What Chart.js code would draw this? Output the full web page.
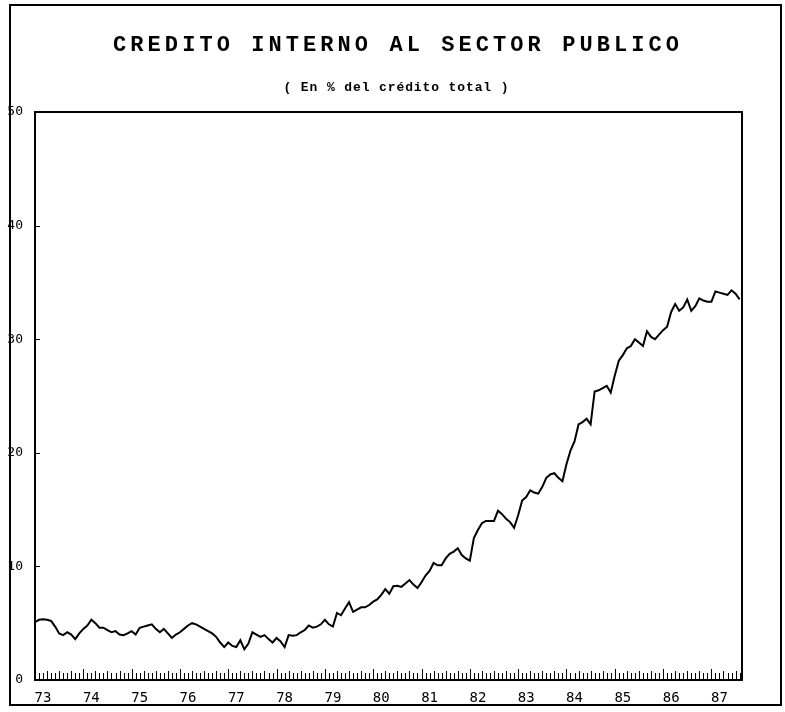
<!DOCTYPE html>
<html><head><meta charset="utf-8">
<script src="https://cdn.jsdelivr.net/npm/chart.js@4/dist/chart.umd.min.js"></script>
<style>html,body{margin:0;padding:0;background:#fff}#c{display:block}</style>
</head><body>
<canvas id="c" width="785" height="712"></canvas>
<script>
const titleText = "CREDITO INTERNO AL SECTOR PUBLICO";
const subtitleText = "( En % del crédito total )";
const yearLabels = ["73","74","75","76","77","78","79","80","81","82","83","84","85","86","87"];
const yTicks = [0,10,20,30,40,50];
const creditShare = [
5.1,5.3,5.35,5.3,5.2,4.7,4.1,3.95,4.2,4.0,3.6,4.1,
4.5,4.8,5.3,5.0,4.6,4.6,4.4,4.2,4.3,4.0,3.95,4.1,
4.3,4.0,4.6,4.7,4.8,4.9,4.5,4.2,4.5,4.1,3.7,4.0,
4.2,4.5,4.8,5.0,4.9,4.7,4.5,4.3,4.1,3.8,3.3,2.9,
3.3,3.0,2.9,3.5,2.7,3.2,4.2,4.0,3.8,3.95,3.6,3.3,
3.7,3.4,2.9,3.95,3.9,3.95,4.2,4.4,4.8,4.6,4.7,4.9,
5.3,4.9,4.7,5.9,5.7,6.3,6.85,6.0,6.2,6.4,6.4,6.6,
6.9,7.1,7.5,8.0,7.6,8.25,8.3,8.2,8.5,8.8,8.4,8.1,
8.6,9.2,9.6,10.3,10.1,10.1,10.7,11.1,11.3,11.6,11.0,10.7,
10.5,12.5,13.2,13.8,14.0,14.0,14.0,14.9,14.6,14.2,13.9,13.4,
14.5,15.8,16.1,16.7,16.5,16.4,17.0,17.8,18.1,18.2,17.8,17.5,
19.0,20.2,21.0,22.5,22.7,23.0,22.5,25.4,25.5,25.7,25.9,25.3,
26.8,28.1,28.6,29.2,29.4,30.0,29.7,29.4,30.7,30.2,30.0,30.4,
30.8,31.1,32.4,33.1,32.5,32.8,33.5,32.5,32.9,33.6,33.4,33.3,
33.3,34.2,34.1,34.0,33.9,34.3,34.0,33.5
];
const points = creditShare.map((v,i)=>({x:i,y:v}));

const deco = {
  id:'deco',
  afterDraw(chart){
    const ctx = chart.ctx, a = chart.chartArea;
    ctx.save();
    ctx.strokeStyle='#000';
    ctx.lineWidth=2;
    ctx.strokeRect(10,5,771,700);
    ctx.strokeRect(a.left,a.top,a.right-a.left,a.bottom-a.top);
    function spaced(txt, cx, y, font, width){
      ctx.font=font; ctx.fillStyle='#000'; ctx.textBaseline='middle'; ctx.textAlign='center';
      const step = width/txt.length;
      const x0 = cx - width/2 + step/2;
      for(let i=0;i<txt.length;i++) ctx.fillText(txt[i], x0+i*step, y);
    }
    spaced(titleText, 396, 45, 'bold 22px "Liberation Mono"', 570);
    spaced(subtitleText, 396, 88, 'bold 13px "Liberation Mono"', 226);
    const xs = chart.scales.x, ys = chart.scales.y;
    ctx.lineWidth=1;
    for(let m=0;m<=175;m++){
      const px = Math.round(xs.getPixelForValue(m))+0.5;
      const len = (m%12===0)?11:(m%3===0?9:7);
      ctx.beginPath(); ctx.moveTo(px,a.bottom); ctx.lineTo(px,a.bottom-len); ctx.stroke();
    }
    for(const t of yTicks){
      const py = Math.round(ys.getPixelForValue(t))+0.5;
      ctx.beginPath(); ctx.moveTo(a.left,py); ctx.lineTo(a.left+5,py); ctx.stroke();
    }
    ctx.restore();
  }
};

new Chart(document.getElementById('c'),{
  type:'line',
  data:{datasets:[{data:points,borderColor:'#000',borderWidth:2,pointRadius:0,tension:0,fill:false}]},
  options:{
    responsive:false,animation:false,
    layout:{padding:{top:112,right:43,bottom:6,left:0}},
    plugins:{legend:{display:false},tooltip:{enabled:false}},
    scales:{
      x:{type:'linear',min:0,max:175.6,
        grid:{display:false},border:{display:false},
        afterBuildTicks(s){s.ticks=[];for(let m=2;m<176;m+=12)s.ticks.push({value:m});},
        ticks:{autoSkip:false,maxRotation:0,padding:2,color:'#000',
          font:{family:'"DejaVu Sans Mono"',size:14},
          callback:(v)=>yearLabels[Math.round((v-2)/12)]},
        afterFit(s){s.height=26;}
      },
      y:{min:0,max:50,
        grid:{display:false},border:{display:false},
        afterBuildTicks(s){s.ticks=yTicks.map(v=>({value:v}));},
        ticks:{color:'#000',padding:4,font:{family:'"DejaVu Sans Mono"',size:13}},
        afterFit(s){s.width=35;}
      }
    }
  },
  plugins:[deco]
});
</script>
</body></html>
